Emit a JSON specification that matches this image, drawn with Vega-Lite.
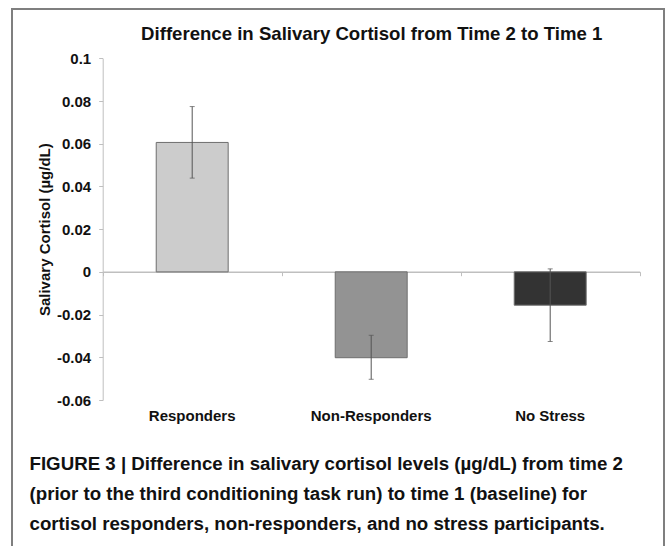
{
  "$schema": "https://vega.github.io/schema/vega-lite/v6.json",
  "autosize": {"type": "none"},
  "width": 652,
  "height": 542,
  "padding": {"left": 12, "top": 9, "right": 7, "bottom": -5},
  "background": "white",
  "config": {
    "view": {"stroke": "#7f7f7f", "strokeWidth": 2},
    "font": "Liberation Sans",
    "axis": {"grid": false, "labelFont": "Liberation Sans", "titleFont": "Liberation Sans"}
  },
  "data": {
    "values": [
      {"group": "Responders", "value": 0.0606, "lo": 0.0439, "hi": 0.0774},
      {"group": "Non-Responders", "value": -0.0402, "lo": -0.0503, "hi": -0.0297},
      {"group": "No Stress", "value": -0.0156, "lo": -0.0326, "hi": 0.0014}
    ]
  },
  "resolve": {"axis": {"x": "independent"}},
  "layer": [
    {
      "mark": {"type": "bar", "width": {"band": 0.402}, "stroke": "#6e6e6e", "strokeWidth": 1},
      "encoding": {
        "x": {
          "field": "group",
          "type": "nominal",
          "sort": ["Responders", "Non-Responders", "No Stress"],
          "scale": {"range": [90.7, 627.7], "paddingInner": 0, "paddingOuter": 0},
          "axis": {
            "orient": "bottom",
            "offset": -151,
            "domain": false,
            "ticks": false,
            "labelAngle": 0,
            "labelFontSize": 15,
            "labelFontWeight": "bold",
            "labelColor": "#111111",
            "labelPadding": 8,
            "title": [
              "FIGURE 3 | Difference in salivary cortisol levels (µg/dL) from time 2",
              "(prior to the third conditioning task run) to time 1 (baseline) for",
              "cortisol responders, non-responders, and no stress participants."
            ],
            "titleFontSize": 18.7,
            "titleFontWeight": "bold",
            "titleColor": "#111111",
            "titleAlign": "left",
            "titleAnchor": "start",
            "titleBaseline": "alphabetic",
            "titleX": 17,
            "titleY": 69,
            "titleLineHeight": 30,
            "titleLimit": 2000
          }
        },
        "y": {
          "field": "value",
          "type": "quantitative",
          "scale": {"domain": [-0.06, 0.1], "range": [391, 49.3], "nice": false, "zero": false},
          "axis": {
            "orient": "left",
            "offset": -90.7,
            "values": [-0.06, -0.04, -0.02, 0, 0.02, 0.04, 0.06, 0.08, 0.1],
            "labelExpr": "'' + datum.value",
            "domainColor": "#bfbfbf",
            "tickColor": "#bfbfbf",
            "tickSize": 4,
            "labelPadding": 8,
            "labelFontSize": 15,
            "labelFontWeight": "bold",
            "labelColor": "#111111",
            "title": "Salivary Cortisol (µg/dL)",
            "titleFontSize": 15,
            "titleFontWeight": "bold",
            "titleColor": "#111111",
            "titleX": -57.7,
            "titleBaseline": "middle"
          }
        },
        "color": {
          "field": "group",
          "type": "nominal",
          "scale": {"domain": ["Responders", "Non-Responders", "No Stress"], "range": ["#cccccc", "#939393", "#333333"]},
          "legend": null
        }
      }
    },
    {
      "mark": {"type": "rule", "color": "#555555", "strokeWidth": 1},
      "encoding": {
        "x": {
          "field": "group",
          "type": "nominal",
          "sort": ["Responders", "Non-Responders", "No Stress"],
          "axis": {
            "orient": "bottom",
            "offset": -279.3,
            "domain": true,
            "domainColor": "#bfbfbf",
            "domainWidth": 1.5,
            "ticks": true,
            "tickBand": "extent",
            "tickColor": "#bfbfbf",
            "tickSize": 4,
            "labels": false,
            "title": null
          }
        },
        "y": {"field": "lo", "type": "quantitative"},
        "y2": {"field": "hi"}
      }
    },
    {
      "mark": {"type": "tick", "orient": "horizontal", "color": "#555555", "size": 5, "thickness": 1},
      "encoding": {
        "x": {
          "field": "group",
          "type": "nominal",
          "sort": ["Responders", "Non-Responders", "No Stress"],
          "axis": {
            "orient": "top",
            "offset": -30.3,
            "domain": false,
            "ticks": false,
            "labels": false,
            "title": "Difference in Salivary Cortisol from Time 2 to Time 1",
            "titleFontSize": 18.6,
            "titleFontWeight": "bold",
            "titleColor": "#111111",
            "titleBaseline": "alphabetic",
            "titleY": 0,
            "titleLimit": 2000
          }
        },
        "y": {"field": "hi", "type": "quantitative"}
      }
    },
    {
      "mark": {"type": "tick", "orient": "horizontal", "color": "#555555", "size": 5, "thickness": 1},
      "encoding": {
        "x": {
          "field": "group",
          "type": "nominal",
          "sort": ["Responders", "Non-Responders", "No Stress"],
          "axis": null
        },
        "y": {"field": "lo", "type": "quantitative"}
      }
    }
  ]
}
